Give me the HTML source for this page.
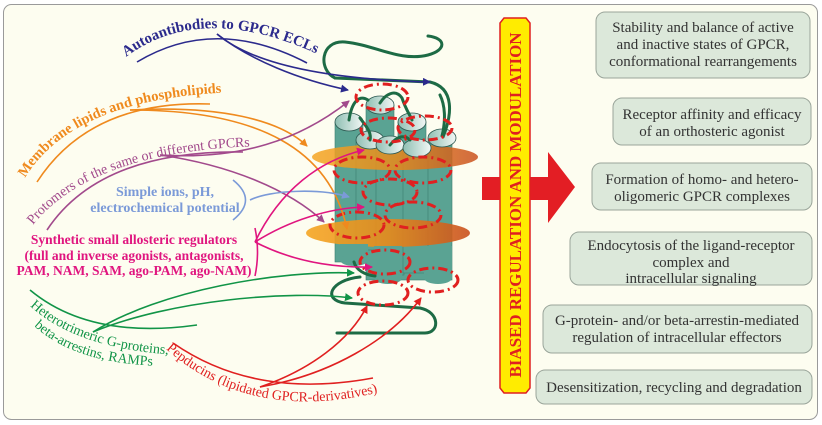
<!DOCTYPE html>
<html><head><meta charset="utf-8"><style>
html,body{margin:0;padding:0;background:#fff;}
svg{display:block;}
text{font-family:"Liberation Serif",serif;}
</style></head><body>
<svg width="822" height="425" viewBox="0 0 822 425" xmlns="http://www.w3.org/2000/svg">
<defs>
<marker id="mn" markerWidth="8" markerHeight="8" refX="7" refY="4" orient="auto" markerUnits="userSpaceOnUse"><path d="M0,0 L8,4 L0,8 z" fill="#2b2a8c"/></marker>
<marker id="mo" markerWidth="8" markerHeight="8" refX="7" refY="4" orient="auto" markerUnits="userSpaceOnUse"><path d="M0,0 L8,4 L0,8 z" fill="#ef8a1e"/></marker>
<marker id="mp" markerWidth="8" markerHeight="8" refX="7" refY="4" orient="auto" markerUnits="userSpaceOnUse"><path d="M0,0 L8,4 L0,8 z" fill="#a24a8c"/></marker>
<marker id="mb" markerWidth="8" markerHeight="8" refX="7" refY="4" orient="auto" markerUnits="userSpaceOnUse"><path d="M0,0 L8,4 L0,8 z" fill="#7b9ad8"/></marker>
<marker id="mm" markerWidth="8" markerHeight="8" refX="7" refY="4" orient="auto" markerUnits="userSpaceOnUse"><path d="M0,0 L8,4 L0,8 z" fill="#e0157f"/></marker>
<marker id="mg" markerWidth="8" markerHeight="8" refX="7" refY="4" orient="auto" markerUnits="userSpaceOnUse"><path d="M0,0 L8,4 L0,8 z" fill="#119447"/></marker>
<marker id="mr" markerWidth="8" markerHeight="8" refX="7" refY="4" orient="auto" markerUnits="userSpaceOnUse"><path d="M0,0 L8,4 L0,8 z" fill="#e02020"/></marker>
<linearGradient id="cap" x1="0" x2="1"><stop offset="0" stop-color="#8fbfb3"/><stop offset="1" stop-color="#f2f7f5"/></linearGradient>
<linearGradient id="mem" x1="0" x2="1"><stop offset="0" stop-color="#f5a623"/><stop offset="0.5" stop-color="#e88a1a"/><stop offset="1" stop-color="#c9501e"/></linearGradient>
<path id="tNavy" d="M126,57 Q 205,-2 330,60"/>
<path id="tOr" d="M25,178 Q 75,96 240,92"/>
<path id="tPu" d="M33,225 Q 95,148 270,146"/>
<path id="tG1" d="M30,306 Q 78,350 180,355"/>
<path id="tG2" d="M34,326 Q 78,366 170,366"/>
<path id="tR" d="M166,349 Q 255,428 395,388"/>
</defs>
<rect x="3.5" y="4.5" width="814" height="415" rx="8" fill="#fdfdf0" stroke="#9a9a9a" stroke-width="1"/>

<g fill="#5aa393" stroke="#3d7d6f" stroke-width="0.6">
<rect x="335" y="122" width="28" height="140"/>
<rect x="366" y="105" width="28" height="175"/>
<rect x="398" y="122" width="28" height="158"/>
<rect x="356" y="140" width="28" height="110"/>
<rect x="376" y="145" width="28" height="130"/>
<rect x="403" y="148" width="28" height="125"/>
<rect x="428" y="138" width="24" height="142"/>
</g>
<ellipse cx="395" cy="157" rx="83" ry="13" fill="url(#mem)" opacity="0.85"/>
<ellipse cx="388" cy="233" rx="82" ry="14" fill="url(#mem)" opacity="0.9"/>
<g fill="#5aa393">
<rect x="340" y="244" width="28" height="16"/><rect x="374" y="246" width="28" height="32"/><rect x="424" y="246" width="28" height="32"/>
<ellipse cx="354" cy="260" rx="14" ry="6"/><ellipse cx="388" cy="278" rx="14" ry="6"/><ellipse cx="438" cy="278" rx="14" ry="6"/>
</g>
<g fill="url(#cap)" stroke="#2f5a52" stroke-width="0.8">
<ellipse cx="349" cy="122" rx="14" ry="9"/>
<ellipse cx="380" cy="105" rx="14" ry="9"/>
<ellipse cx="412" cy="122" rx="14" ry="9"/>
<ellipse cx="442" cy="138" rx="14" ry="9"/>
<ellipse cx="370" cy="140" rx="14" ry="9"/>
<ellipse cx="390" cy="145" rx="14" ry="9"/>
<ellipse cx="417" cy="148" rx="14" ry="9"/>
</g>
<g fill="none" stroke="#1d6b45" stroke-width="3" stroke-linecap="round">
<path d="M335,78 C318,70 320,40 345,42 C375,45 400,62 428,55 C447,50 446,38 428,36"/>
<path d="M335,78 L430,82 C455,88 452,115 443,137"/>
<path d="M349,120 C352,100 360,95 368,100 M380,103 C385,95 395,88 402,98 C406,110 410,115 412,120 M370,140 C372,132 365,125 360,118 M390,145 C398,135 405,135 410,140 M442,136 C446,120 445,105 440,95"/>
<path d="M360,277 C330,280 322,300 345,303 L420,308 C440,312 440,333 425,333 L337,333"/>
<path d="M354,262 C356,270 365,275 375,276"/>
</g>
<g fill="none" stroke="#e02020" stroke-width="3" stroke-dasharray="9,4,2,4">
<ellipse cx="382" cy="97" rx="26" ry="13"/>
<ellipse cx="388" cy="130" rx="27" ry="12"/>
<ellipse cx="425" cy="128" rx="27" ry="12"/>
<ellipse cx="362" cy="170" rx="28" ry="13"/>
<ellipse cx="423" cy="170" rx="28" ry="13"/>
<ellipse cx="390" cy="192" rx="27" ry="13"/>
<ellipse cx="413" cy="215" rx="28" ry="13"/>
<ellipse cx="357" cy="225" rx="27" ry="13"/>
<ellipse cx="385" cy="262" rx="25" ry="12"/>
<ellipse cx="433" cy="280" rx="25" ry="12"/>
<ellipse cx="383" cy="293" rx="25" ry="12"/>
</g>

<g fill="none" stroke-width="1.6">
<path d="M137,62 Q215,15 307,63" stroke="#2b2a8c"/>
<path d="M217,34 C250,60 300,80 348,90" stroke="#2b2a8c" marker-end="url(#mn)"/>
<path d="M217,34 C260,70 350,80 430,82" stroke="#2b2a8c" marker-end="url(#mn)"/>
<path d="M37,182 Q90,100 210,104" stroke="#ef8a1e"/>
<path d="M130,110 C220,105 280,120 307,146" stroke="#ef8a1e" marker-end="url(#mo)"/>
<path d="M130,110 C260,110 330,150 347,229" stroke="#ef8a1e" marker-end="url(#mo)"/>
<path d="M47,230 Q100,150 243,152" stroke="#a24a8c"/>
<path d="M160,155 C240,160 300,140 349,101" stroke="#a24a8c" marker-end="url(#mp)"/>
<path d="M160,155 C230,165 290,190 324,222" stroke="#a24a8c" marker-end="url(#mp)"/>
<path d="M233,180 Q258,200 233,220" stroke="#7b9ad8"/>
<path d="M250,200 C270,190 320,188 349,197" stroke="#7b9ad8" marker-end="url(#mb)"/>
<path d="M255,228 Q260,252 255,276" stroke="#e0157f"/>
<path d="M255,242 C280,190 320,160 364,150" stroke="#e0157f" marker-end="url(#mm)"/>
<path d="M255,242 C290,220 330,208 364,207" stroke="#e0157f" marker-end="url(#mm)"/>
<path d="M255,242 C290,260 330,268 372,267" stroke="#e0157f" marker-end="url(#mm)"/>
<path d="M30,290 Q90,340 197,325" stroke="#119447"/>
<path d="M93,332 C160,290 280,270 354,273" stroke="#119447" marker-end="url(#mg)"/>
<path d="M93,332 C170,300 290,290 352,298" stroke="#119447" marker-end="url(#mg)"/>
<path d="M173,343 Q255,400 373,378" stroke="#e02020"/>
<path d="M260,387 C310,370 350,340 367,306" stroke="#e02020" marker-end="url(#mr)"/>
<path d="M260,387 C330,375 390,340 421,298" stroke="#e02020" marker-end="url(#mr)"/>
</g>

<text font-size="15" font-weight="bold" fill="#2b2a8c"><textPath href="#tNavy">Autoantibodies to GPCR ECLs</textPath></text>
<text font-size="14.5" font-weight="bold" fill="#ef8a1e"><textPath href="#tOr">Membrane lipids and phospholipids</textPath></text>
<text font-size="14" fill="#a24a8c"><textPath href="#tPu">Protomers of the same or different GPCRs</textPath></text>
<text font-size="14" font-weight="bold" fill="#7b9ad8" text-anchor="middle"><tspan x="165" y="196">Simple ions, pH,</tspan><tspan x="165" y="212">electrochemical potential</tspan></text>
<text font-size="13.5" font-weight="bold" fill="#e0157f" text-anchor="middle"><tspan x="134" y="244">Synthetic small allosteric regulators</tspan><tspan x="134" y="260">(full and inverse agonists, antagonists,</tspan><tspan x="134" y="275">PAM, NAM, SAM, ago-PAM, ago-NAM)</tspan></text>
<text font-size="14" fill="#119447"><textPath href="#tG1">Heterotrimeric G-proteins,</textPath></text>
<text font-size="14" fill="#119447"><textPath href="#tG2">beta-arrestins, RAMPs</textPath></text>
<text font-size="14" fill="#e02020"><textPath href="#tR">Pepducins (lipidated GPCR-derivatives)</textPath></text>

<path d="M482,177 L548,177 L548,152 L575,187 L548,223 L548,200 L482,200 Z" fill="#e31e24"/>
<path d="M504,18 L526,18 L530,23 L530,388 L526,393 L504,393 L500,388 L500,23 Z" fill="#ffec00" stroke="#e02020" stroke-width="1.5"/>
<text transform="translate(521,205) rotate(-90)" font-size="16.5" font-weight="bold" fill="#e02020" text-anchor="middle" textLength="345" lengthAdjust="spacingAndGlyphs">BIASED REGULATION AND MODULATION</text>

<g fill="#dce8da" stroke="#9aa59a" stroke-width="1">
<rect x="596" y="12" width="214" height="66" rx="9"/>
<rect x="613" y="98" width="198" height="47" rx="9"/>
<rect x="592" y="163" width="220" height="47" rx="9"/>
<rect x="570" y="232" width="242" height="53" rx="9"/>
<rect x="543" y="305" width="269" height="48" rx="9"/>
<rect x="536" y="370" width="276" height="34" rx="9"/>
</g>
<g font-size="15" fill="#333" text-anchor="middle">
<text x="703" y="32">Stability and balance of active</text>
<text x="703" y="49">and inactive states of GPCR,</text>
<text x="703" y="66">conformational rearrangements</text>
<text x="712" y="119">Receptor affinity and efficacy</text>
<text x="712" y="136">of an orthosteric agonist</text>
<text x="702" y="184">Formation of homo- and hetero-</text>
<text x="702" y="201">oligomeric GPCR complexes</text>
<text x="691" y="250">Endocytosis of the ligand-receptor</text>
<text x="691" y="267">complex and</text>
<text x="691" y="283">intracellular signaling</text>
<text x="677" y="325">G-protein- and/or beta-arrestin-mediated</text>
<text x="677" y="342">regulation of intracellular effectors</text>
<text x="674" y="392">Desensitization, recycling and degradation</text>
</g>
</svg>
</body></html>
